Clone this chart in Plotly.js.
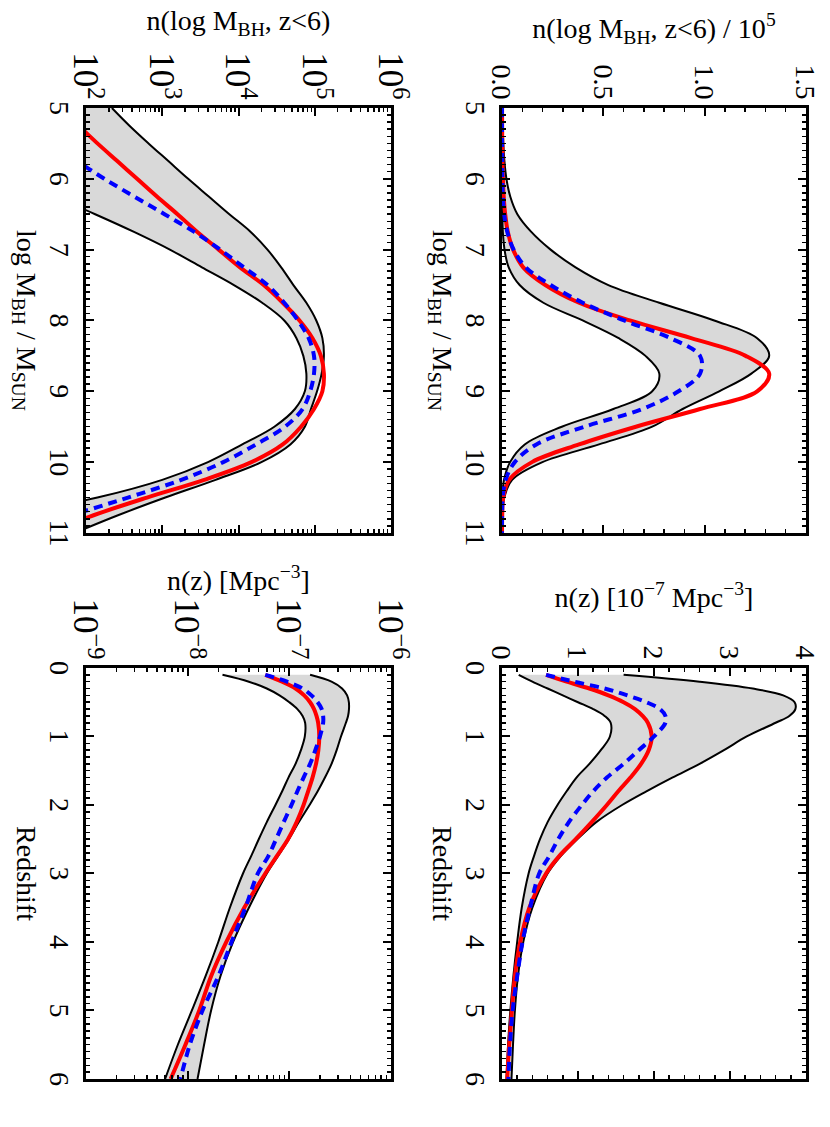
<!DOCTYPE html>
<html>
<head>
<meta charset="utf-8">
<script src="https://cdn.plot.ly/plotly-3.0.1.min.js"></script>
<style>
  html, body { margin: 0; padding: 0; background: #fff; overflow: hidden; }
  /* the figure is drawn in landscape and turned a quarter clockwise */
  #plot {
    position: absolute; left: 0; top: 0; width: 1127px; height: 830px;
    transform-origin: 0 0; transform: translate(830px, 0) rotate(90deg);
  }
</style>
</head>
<body>
<div id="plot"></div>
<script>
// black hole mass grid, log M_BH / M_sun
const LOG_MASS = [5.0, 5.25, 5.5, 5.75, 6.0, 6.25, 6.5, 6.75, 7.0, 7.25, 7.5, 7.75,
  8.0, 8.25, 8.5, 8.75, 9.0, 9.25, 9.5, 9.75, 10.0, 10.25, 10.5, 10.75, 11.0];

// log10 n(log M_BH, z<6)
const MASS_UPPER = [2.34, 2.57, 2.82, 3.08, 3.34, 3.61, 3.88, 4.16, 4.38, 4.56, 4.72, 4.89,
  5.02, 5.10, 5.12, 5.09, 5.03, 4.95, 4.87, 4.68, 4.30, 3.70, 3.04, 2.42, 1.85];
const MASS_LOWER = [-1.4, -0.8, -0.2, 0.4, 1.0, 1.58, 2.12, 2.63, 3.10, 3.52, 3.94, 4.31,
  4.60, 4.76, 4.85, 4.89, 4.87, 4.74, 4.47, 4.05, 3.60, 3.00, 2.15, 1.00, 0.0];
const MASS_RED = [1.63, 1.90, 2.15, 2.41, 2.67, 2.93, 3.20, 3.46, 3.74, 4.02, 4.33, 4.58,
  4.80, 4.97, 5.08, 5.12, 5.10, 4.99, 4.82, 4.58, 4.17, 3.55, 2.80, 2.10, 1.50];
const MASS_BLUE = [0.60, 1.05, 1.50, 1.88, 2.24, 2.63, 3.03, 3.42, 3.76, 4.07, 4.38, 4.60,
  4.78, 4.92, 4.99, 4.99, 4.94, 4.84, 4.61, 4.23, 3.80, 3.25, 2.55, 1.80, 1.00];

// redshift grid
const REDSHIFT = [0.1, 0.2, 0.3, 0.4, 0.5, 0.6, 0.7, 0.8, 1.0, 1.2, 1.4, 1.6, 1.8, 2.0,
  2.25, 2.5, 2.75, 3.0, 3.5, 4.0, 4.5, 5.0, 5.5, 6.0];

// n(z) in units of 1e-7 Mpc^-3
const Z_UPPER = [1.6, 2.6, 3.3, 3.7, 3.85, 3.86, 3.78, 3.6, 3.22, 2.92, 2.6, 2.24, 1.9, 1.58,
  1.24, 0.99, 0.77, 0.60, 0.40, 0.28, 0.21, 0.17, 0.145, 0.125];
const Z_LOWER = [0.22, 0.4, 0.6, 0.8, 1.0, 1.2, 1.35, 1.43, 1.42, 1.3, 1.15, 0.98, 0.85, 0.73,
  0.6, 0.5, 0.42, 0.35, 0.26, 0.2, 0.15, 0.11, 0.08, 0.06];
const Z_RED = [0.58, 0.85, 1.15, 1.4, 1.6, 1.75, 1.85, 1.92, 1.97, 1.93, 1.83, 1.69, 1.53, 1.38,
  1.18, 0.97, 0.75, 0.58, 0.36, 0.24, 0.17, 0.13, 0.095, 0.068];
const Z_BLUE = [0.58, 0.95, 1.35, 1.65, 1.9, 2.08, 2.15, 2.15, 2.0, 1.8, 1.6, 1.38, 1.2, 1.05,
  0.88, 0.74, 0.62, 0.49, 0.37, 0.27, 0.2, 0.14, 0.105, 0.085];

const BAND_FILL = "rgb(217, 217, 217)";
const FONT_FAMILY = "Liberation Serif";
const TEXT_FONT = { family: FONT_FAMILY, size: 28, color: "black" };

const fromLog = (values, scale) => values.map((v) => Math.pow(10, v) / scale);
const scaled = (values, factor) => values.map((v) => v * factor);

function panelTraces(x, lower, upper, red, blue, xa, ya) {
  const common = { x, xaxis: xa, yaxis: ya, type: "scatter", mode: "lines", hoverinfo: "skip" };
  return [
    { ...common, y: lower, line: { color: "black", width: 2, shape: "spline" } },
    {
      ...common,
      y: upper,
      fill: "tonexty",
      fillcolor: BAND_FILL,
      line: { color: "black", width: 2, shape: "spline" },
    },
    { ...common, y: red, line: { color: "rgb(255, 0, 0)", width: 4, shape: "spline" } },
    {
      ...common,
      y: blue,
      line: { color: "rgb(0, 0, 255)", width: 4, dash: "9px,6px", shape: "spline" },
    },
  ];
}

function frameAxis(opts) {
  return {
    showline: true,
    linecolor: "black",
    linewidth: 2.8,
    mirror: "allticks",
    ticks: "inside",
    ticklen: 8,
    tickwidth: 2,
    tickcolor: "black",
    showgrid: false,
    zeroline: false,
    tickfont: TEXT_FONT,
    ...opts,
    minor: {
      ticks: "inside",
      ticklen: 4,
      tickwidth: 1.5,
      tickcolor: "black",
      showgrid: false,
      ...opts.minor,
    },
    title: { font: TEXT_FONT, ...opts.title },
  };
}

const COL_LEFT = [0.0958, 0.4729];
const COL_RIGHT = [0.5927, 0.9574];
const ROW_TOP = [0.6048, 0.9711];
const ROW_BOTTOM = [0.1036, 0.4711];

const massTitle = "log M<sub>BH</sub> / M<sub>SUN</sub>";

const traces = [
  ...panelTraces(LOG_MASS, fromLog(MASS_LOWER, 1e5), fromLog(MASS_UPPER, 1e5),
    fromLog(MASS_RED, 1e5), fromLog(MASS_BLUE, 1e5), "x", "y"),
  ...panelTraces(REDSHIFT, Z_LOWER, Z_UPPER, Z_RED, Z_BLUE, "x2", "y2"),
  ...panelTraces(LOG_MASS, fromLog(MASS_LOWER, 1), fromLog(MASS_UPPER, 1),
    fromLog(MASS_RED, 1), fromLog(MASS_BLUE, 1), "x3", "y3"),
  ...panelTraces(REDSHIFT, scaled(Z_LOWER, 1e-7), scaled(Z_UPPER, 1e-7),
    scaled(Z_RED, 1e-7), scaled(Z_BLUE, 1e-7), "x4", "y4"),
];

const layout = {
  width: 1127,
  height: 830,
  margin: { l: 0, r: 0, t: 0, b: 0 },
  paper_bgcolor: "white",
  plot_bgcolor: "white",
  showlegend: false,
  font: TEXT_FONT,
  xaxis: frameAxis({
    domain: COL_LEFT, anchor: "y", range: [5, 11], tick0: 5, dtick: 1,
    minor: { dtick: 0.1 },
    title: { text: massTitle, standoff: 8 },
  }),
  yaxis: frameAxis({
    domain: ROW_TOP, anchor: "x", range: [0, 1.5], tick0: 0, dtick: 0.5, tickformat: ".1f",
    minor: { dtick: 0.1 },
    title: { text: "n(log M<sub>BH</sub>, z&lt;6) / 10<sup>5</sup>", standoff: 18 },
  }),
  xaxis2: frameAxis({
    domain: COL_RIGHT, anchor: "y2", range: [0, 6], tick0: 0, dtick: 1,
    minor: { dtick: 0.1 },
    title: { text: "Redshift", standoff: 8 },
  }),
  yaxis2: frameAxis({
    domain: ROW_TOP, anchor: "x2", range: [0, 4], tick0: 0, dtick: 1,
    minor: { dtick: 0.2 },
    title: { text: "n(z) [10<sup>−7</sup> Mpc<sup>−3</sup>]", standoff: 30 },
  }),
  xaxis3: frameAxis({
    domain: COL_LEFT, anchor: "y3", range: [5, 11], tick0: 5, dtick: 1,
    minor: { dtick: 0.1 },
    title: { text: massTitle, standoff: 8 },
  }),
  yaxis3: frameAxis({
    domain: ROW_BOTTOM, anchor: "x3", type: "log", range: [2, 6], dtick: 1,
    exponentformat: "power",
    minor: { dtick: "D1" },
    title: { text: "n(log M<sub>BH</sub>, z&lt;6)", standoff: 14 },
  }),
  xaxis4: frameAxis({
    domain: COL_RIGHT, anchor: "y4", range: [0, 6], tick0: 0, dtick: 1,
    minor: { dtick: 0.1 },
    title: { text: "Redshift", standoff: 8 },
  }),
  yaxis4: frameAxis({
    domain: ROW_BOTTOM, anchor: "x4", type: "log", range: [-9, -6], dtick: 1,
    exponentformat: "power",
    minor: { dtick: "D1" },
    title: { text: "n(z) [Mpc<sup>−3</sup>]", standoff: 0 },
  }),
};

Plotly.newPlot("plot", traces, layout, { staticPlot: true, displayModeBar: false });
</script>
</body>
</html>
